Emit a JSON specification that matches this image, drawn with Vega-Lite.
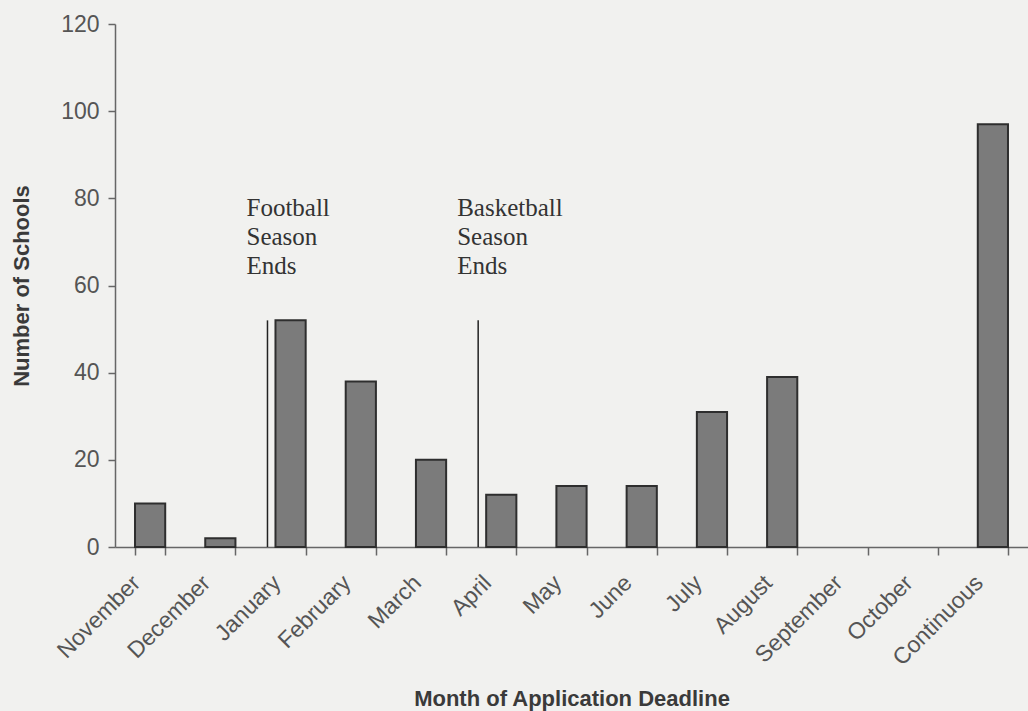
{
  "$schema": "https://vega.github.io/schema/vega-lite/v6.json",
  "width": 913,
  "height": 523,
  "autosize": {"type": "none"},
  "padding": {"left": 115, "top": 24, "right": 0, "bottom": 164},
  "background": "#f1f1ef",
  "config": {"view": {"stroke": null}, "font": "Liberation Sans"},
  "datasets": {
    "deadlines": [
      {"month": "November", "schools": 10},
      {"month": "December", "schools": 2},
      {"month": "January", "schools": 52},
      {"month": "February", "schools": 38},
      {"month": "March", "schools": 20},
      {"month": "April", "schools": 12},
      {"month": "May", "schools": 14},
      {"month": "June", "schools": 14},
      {"month": "July", "schools": 31},
      {"month": "August", "schools": 39},
      {"month": "September", "schools": 0},
      {"month": "October", "schools": 0},
      {"month": "Continuous", "schools": 97}
    ],
    "seasons": [
      {"month": "January", "label": "Football\nSeason\nEnds", "base": 0, "top": 52, "texty": 76},
      {"month": "April", "label": "Basketball\nSeason\nEnds", "base": 0, "top": 52, "texty": 76}
    ]
  },
  "layer": [
    {
      "data": {"name": "deadlines"},
      "transform": [{"filter": "datum.schools > 0"}],
      "mark": {"type": "bar", "fill": "#7b7b7b", "stroke": "#2e2e2e", "strokeWidth": 2},
      "encoding": {
        "x": {
          "field": "month", "type": "nominal",
          "scale": {
            "domain": ["November", "December", "January", "February", "March", "April", "May", "June", "July", "August", "September", "October", "Continuous"],
            "paddingInner": 0.57, "paddingOuter": 0.285
          },
          "axis": {
            "title": "Month of Application Deadline",
            "titleFontSize": 22, "titleFontWeight": "bold", "titleColor": "#3a3a3a",
            "labelAngle": -45, "labelAlign": "right", "labelBaseline": "middle",
            "labelFontSize": 23, "labelColor": "#555", "labelPadding": 24, "labelOffset": -14,
            "tickBand": "extent", "tickSize": 8, "tickColor": "#666", "tickWidth": 1.5,
            "domainColor": "#666", "domainWidth": 1.5, "titlePadding": 19
          }
        },
        "y": {
          "field": "schools", "type": "quantitative",
          "scale": {"domain": [0, 120]},
          "axis": {
            "title": "Number of Schools",
            "titleFontSize": 22, "titleFontWeight": "bold", "titleColor": "#3a3a3a",
            "values": [0, 20, 40, 60, 80, 100, 120],
            "labelFontSize": 23, "labelColor": "#555", "labelPadding": 9,
            "tickSize": 7, "tickColor": "#666", "tickWidth": 1.5,
            "domainColor": "#666", "domainWidth": 1.5, "grid": false, "titlePadding": 27
          }
        }
      }
    },
    {
      "data": {"name": "seasons"},
      "mark": {"type": "rule", "color": "#222", "strokeWidth": 1.5, "xOffset": -8},
      "encoding": {
        "x": {"field": "month", "type": "nominal", "bandPosition": 0},
        "y": {"field": "base", "type": "quantitative"},
        "y2": {"field": "top"}
      }
    },
    {
      "data": {"name": "seasons"},
      "mark": {"type": "text", "font": "Liberation Serif", "fontSize": 25, "lineBreak": "\n", "lineHeight": 29, "align": "left", "baseline": "alphabetic", "dx": -29, "color": "#333"},
      "encoding": {
        "x": {"field": "month", "type": "nominal", "bandPosition": 0},
        "y": {"field": "texty", "type": "quantitative"},
        "text": {"field": "label"}
      }
    }
  ]
}
